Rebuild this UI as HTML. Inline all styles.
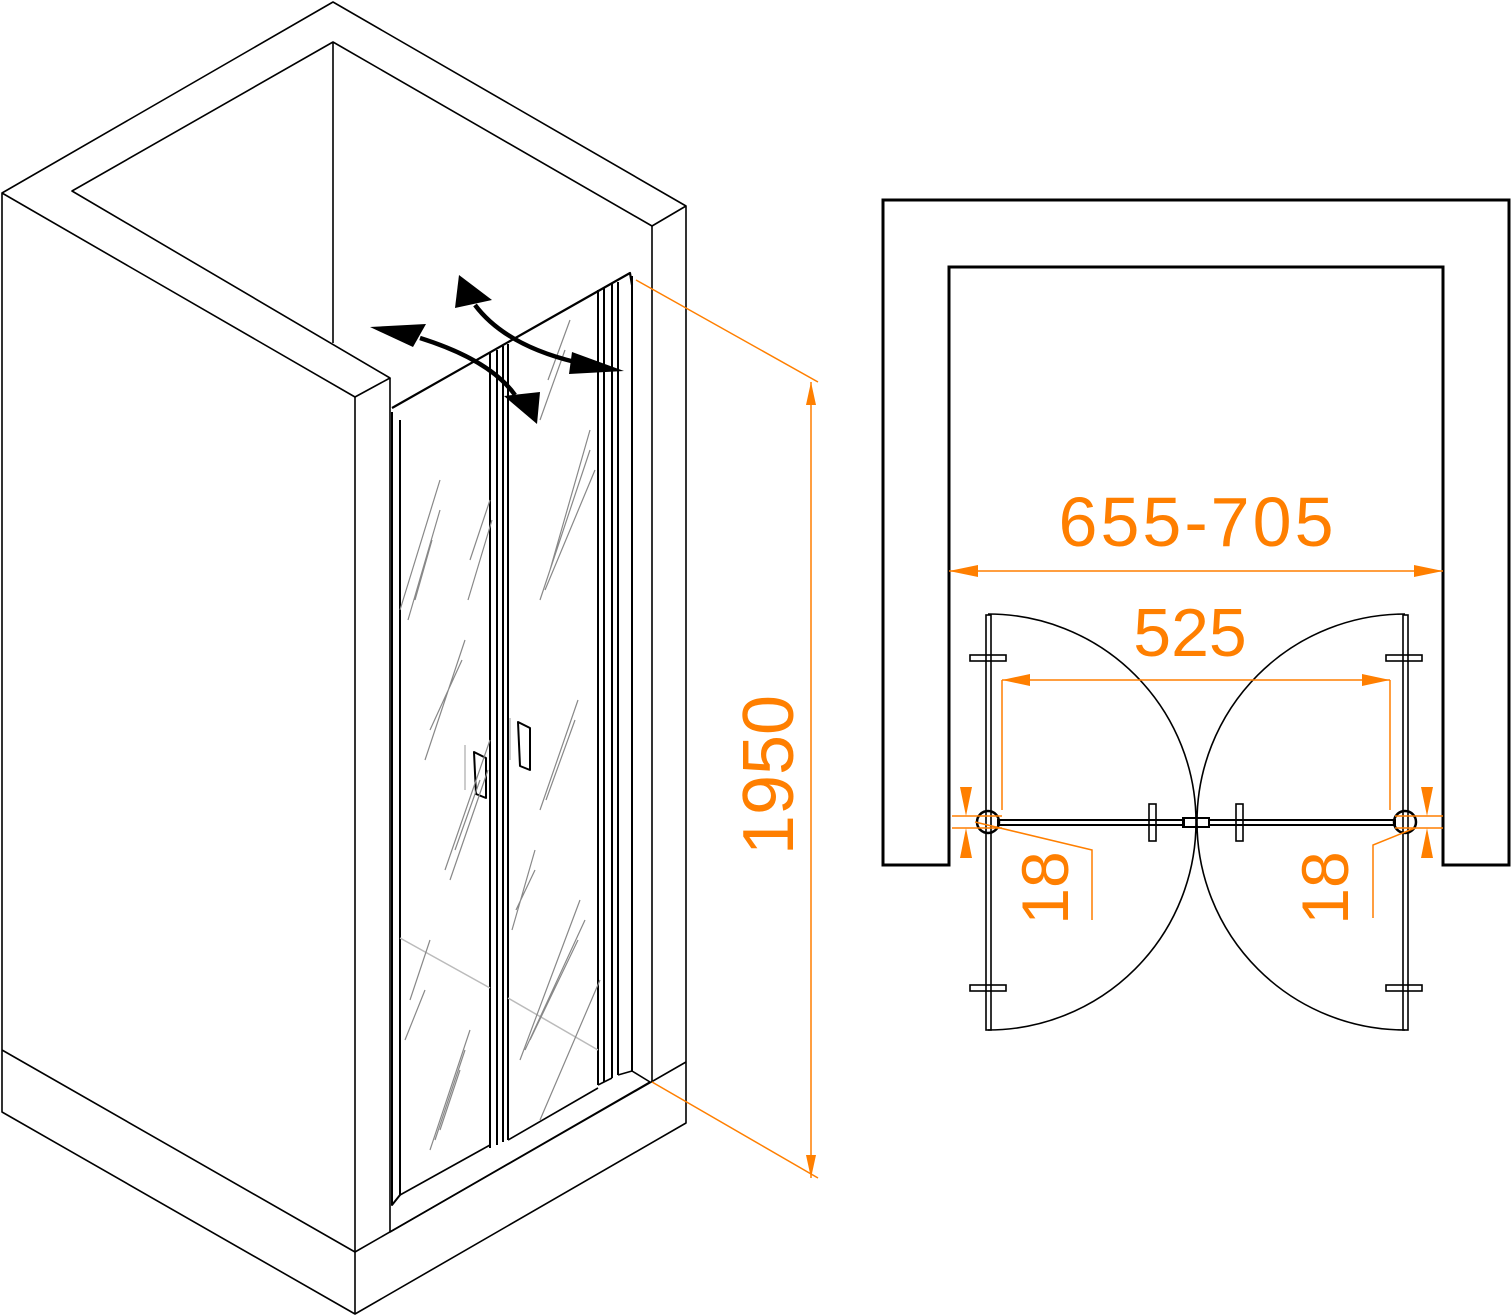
<!DOCTYPE html>
<html><head><meta charset="utf-8"><style>
html,body{margin:0;padding:0;background:#fff}
svg{display:block}
text{font-family:"Liberation Sans",sans-serif;fill:#ff7f00}
</style></head><body>
<svg width="1512" height="1316" viewBox="0 0 1512 1316" xmlns="http://www.w3.org/2000/svg">
<g fill="none" stroke="#000" stroke-width="1.6" stroke-linejoin="round">
<path d="M2,193 L333,2 L686,206 L686,1123 L355,1314 L2,1112 Z"/>
<path d="M2,1050 L355,1252 L686,1062"/>
<path d="M355,397 L2,193"/>
<path d="M355,397 L355,1314"/>
<path d="M355,397 L390,378 L72,191 L333,42 L652,226 L686,206"/>
<path d="M333,42 L333,343"/>
<path d="M652,226 L652,1082"/>
<path d="M390,378 L390,1232 L650,1082 L632,1071"/>
<path d="M392,408 L630,273 L632,285" stroke-width="2.2"/>
<path d="M392,412 L392,1205 L400,1195 L400,420" stroke-width="2"/>
<path d="M400,1195 L490,1145"/>
<path d="M490,352 L490,1148 M497,350 L497,1145 M503,346 L503,1142 M508,344 L508,1140" stroke-width="2"/>
<path d="M508,1140 L598,1088"/>
<path d="M598,290 L598,1085 M604,287 L604,1082 M612,283 L612,1078 M618,282 L618,1075 M632,276 L632,1071" stroke-width="2"/>
<path d="M598,1085 L612,1078 M618,1075 L632,1071"/>
<path d="M474,752 L486,758 L486,798 L476,794 Z" stroke-width="2"/>
<path d="M518,722 L530,728 L530,770 L520,766 Z" stroke-width="2"/>
</g>
<g stroke="#bbb" stroke-width="1.5" fill="none">
<path d="M465,745 L465,790 M510,718 L510,760"/>
<path d="M400,938 L490,988 M508,998 L598,1050"/>
</g>
<g stroke="#888" stroke-width="1.2">
<path d="M400,610 L440,480 M408,620 L440,510 M415,600 L432,540 M468,600 L492,520 M470,560 L490,500"/>
<path d="M425,760 L465,640 M430,730 L462,660 M445,870 L490,740 M450,880 L488,770 M455,850 L480,780"/>
<path d="M410,1000 L430,940 M405,1040 L425,990 M430,1150 L470,1030 M435,1140 L465,1050 M440,1130 L460,1070"/>
<path d="M540,600 L590,450 M545,590 L595,470 M550,570 L590,430 M540,420 L565,350 M548,380 L570,320"/>
<path d="M540,810 L578,700 M546,800 L575,720 M512,930 L535,850 M516,910 L535,870"/>
<path d="M520,1060 L580,900 M525,1050 L585,920 M530,1040 L578,940 M540,1120 L600,980"/>
</g>
<g fill="none" stroke="#000" stroke-width="4.5">
<path d="M420,338 Q490,360 515,395"/>
<path d="M475,305 Q505,345 575,362"/>
</g>
<g fill="#000">
<polygon points="370,327 426,324 413,347"/>
<polygon points="459,275 492,300 455,308"/>
<polygon points="504,396 540,392 537,424"/>
<polygon points="572,352 624,371 569,374"/>
</g>
<g stroke="#ff7f00" stroke-width="1.5" fill="none">
<path d="M636,280 L818,382 M652,1082 L818,1178 M811,382 L811,1178"/>
</g>
<g fill="#ff7f00">
<polygon points="811,382 806,405 816,405"/>
<polygon points="811,1178 806,1155 816,1155"/>
</g>
<text x="0" y="0" font-size="72" transform="translate(793,775) rotate(-90)" text-anchor="middle">1950</text>

<path d="M883,865 L883,200 L1509,200 L1509,865 L1443,865 L1443,267 L949,267 L949,865 Z" fill="none" stroke="#000" stroke-width="3"/>
<g fill="none" stroke="#000" stroke-width="1.6">
<path d="M988,614 A208,208 0 0 1 988,1030"/>
<path d="M1405,614 A208,208 0 0 0 1405,1030"/>
<rect x="986" y="615" width="5" height="415"/>
<rect x="1403" y="615" width="5" height="415"/>
<rect x="970" y="655" width="36" height="6"/><rect x="970" y="985" width="36" height="6"/>
<rect x="1386" y="655" width="36" height="6"/><rect x="1386" y="985" width="36" height="6"/>
<rect x="998" y="820" width="186" height="5" stroke-width="2"/>
<rect x="1209" y="820" width="186" height="5" stroke-width="2"/>
<rect x="1183" y="818" width="26" height="9" stroke-width="2"/>
<rect x="1149" y="804" width="7" height="37"/><rect x="1236" y="804" width="7" height="37"/>
<circle cx="988" cy="822" r="11" stroke-width="2.5"/>
<circle cx="1405" cy="822" r="11" stroke-width="2.5"/>
</g>
<g stroke="#ff7f00" stroke-width="1.5" fill="none">
<path d="M949,571 L1443,571 M1002,680 L1390,680 M1002,680 L1002,810 M1390,680 L1390,810"/>
<path d="M952,816 L1002,816 M952,828 L1002,828 M1395,816 L1443,816 M1395,828 L1443,828"/>
<path d="M975,822 L1092,850 L1092,920 M1415,828 L1373,845 L1373,918"/>
</g>
<g fill="#ff7f00">
<polygon points="949,571 978,565 978,577"/><polygon points="1443,571 1414,565 1414,577"/>
<polygon points="1002,680 1030,674 1030,686"/><polygon points="1390,680 1362,674 1362,686"/>
<polygon points="966,816 960,787 972,787"/><polygon points="966,828 960,858 972,858"/>
<polygon points="1427,816 1421,787 1433,787"/><polygon points="1427,828 1421,858 1433,858"/>
</g>
<text x="1196" y="546" font-size="70" text-anchor="middle" textLength="275" lengthAdjust="spacing">655-705</text>
<text x="1190" y="656" font-size="68" text-anchor="middle">525</text>
<text font-size="66" transform="translate(1068,888) rotate(-90)" text-anchor="middle">18</text>
<text font-size="66" transform="translate(1348,888) rotate(-90)" text-anchor="middle">18</text>
</svg>
</body></html>
